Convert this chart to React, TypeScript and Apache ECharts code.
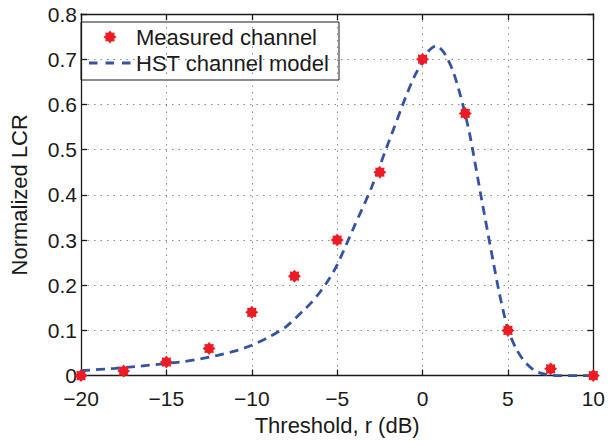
import React, { useEffect, useRef } from "react";
import * as echarts from "echarts";

const measuredX = [-20, -17.5, -15, -12.5, -10, -7.5, -5, -2.5, 0, 2.5, 5, 7.5, 10];
const measuredY = [0, 0.01, 0.03, 0.06, 0.14, 0.22, 0.3, 0.45, 0.7, 0.58, 0.1, 0.015, 0];

const modelX = [-20, -18, -16, -15, -14, -13, -12, -11, -10, -9, -8, -7, -6.5, -6, -5.5, -5, -4, -3, -2, -1, -0.5, 0, 0.4, 0.8, 1.3, 1.8, 2.2, 2.5, 2.8, 3.4, 4.0, 4.5, 5.0, 5.5, 6.0, 6.6, 7.3, 8, 9, 10];
const modelY = [0.011, 0.016, 0.023, 0.027, 0.031, 0.037, 0.045, 0.054, 0.067, 0.085, 0.108, 0.143, 0.162, 0.185, 0.212, 0.245, 0.33, 0.415, 0.515, 0.615, 0.66, 0.695, 0.72, 0.73, 0.712, 0.672, 0.622, 0.578, 0.527, 0.402, 0.28, 0.182, 0.102, 0.058, 0.03, 0.01, 0.002, 0, 0, 0];

const seriesNames = ["Measured channel", "HST channel model"];
const xLabelTitle = "Threshold, r (dB)";
const yLabelTitle = "Normalized LCR";

const FONT = "Liberation Sans, Arial, Helvetica, sans-serif";
const RED = "#ed1c24";
const BLUE = "#3553a4";

function starPoints(cx: number, cy: number, n: number, ro: number, ri: number) {
  const pts: number[][] = [];
  for (let i = 0; i < 2 * n; i++) {
    const a = (i * Math.PI) / n - Math.PI / 2;
    const r = i % 2 === 0 ? ro : ri;
    pts.push([cx + r * Math.cos(a), cy + r * Math.sin(a)]);
  }
  return pts;
}

function starSymbol() {
  const pts = starPoints(10, 10, 8, 10, 7.2);
  return "path://M" + pts.map((p) => p[0].toFixed(2) + "," + p[1].toFixed(2)).join("L") + "Z";
}

export default function App() {
  const ref = useRef<HTMLDivElement>(null);
  useEffect(() => {
    if (!ref.current) return;
    const chart = echarts.init(ref.current, null, { renderer: "svg" });
    const axisLineStyle = { color: "#1a1a1a", width: 1.3 };
    const labelStyle = { fontFamily: FONT, fontSize: 21, color: "#1a1a1a", lineHeight: 16 };
    const splitStyle = { type: [1.5, 5] as any, color: "#8a8a8a", width: 1 };
    chart.setOption({
      animation: false,
      backgroundColor: "#ffffff",
      grid: { left: 74, right: 13, top: 14, bottom: 58, containLabel: false },
      xAxis: [
        {
          type: "value",
          min: -20,
          max: 10,
          interval: 5,
          position: "bottom",
          name: xLabelTitle,
          nameLocation: "middle",
          nameGap: 37,
          nameTextStyle: { fontFamily: FONT, fontSize: 22, color: "#1a1a1a", lineHeight: 20 },
          axisLine: { show: true, onZero: false, lineStyle: axisLineStyle },
          axisTick: { show: true, inside: true, length: 6, lineStyle: axisLineStyle },
          axisLabel: {
            ...labelStyle,
            margin: 15,
            formatter: (v: number) => (v < 0 ? "\u2212" + Math.abs(v) : String(v)),
          },
          splitLine: { show: true, lineStyle: splitStyle },
        },
        {
          type: "value",
          min: -20,
          max: 10,
          interval: 5,
          position: "top",
          axisLine: { show: true, onZero: false, lineStyle: axisLineStyle },
          axisTick: { show: true, inside: true, length: 6, lineStyle: axisLineStyle },
          axisLabel: { show: false },
          splitLine: { show: false },
        },
      ],
      yAxis: [
        {
          type: "value",
          min: 0,
          max: 0.8,
          interval: 0.1,
          position: "left",
          name: yLabelTitle,
          nameLocation: "middle",
          nameGap: 52,
          nameTextStyle: { fontFamily: FONT, fontSize: 22, color: "#1a1a1a", lineHeight: 20 },
          axisLine: { show: true, onZero: false, lineStyle: axisLineStyle },
          axisTick: { show: true, inside: true, length: 6, lineStyle: axisLineStyle },
          axisLabel: {
            ...labelStyle,
            margin: 4,
            formatter: (v: number) => (Math.abs(v) < 1e-9 ? "0" : v.toFixed(1)),
          },
          splitLine: { show: true, lineStyle: splitStyle },
        },
        {
          type: "value",
          min: 0,
          max: 0.8,
          interval: 0.1,
          position: "right",
          axisLine: { show: true, onZero: false, lineStyle: axisLineStyle },
          axisTick: { show: true, inside: true, length: 6, lineStyle: axisLineStyle },
          axisLabel: { show: false },
          splitLine: { show: false },
        },
      ],
      series: [
        {
          name: seriesNames[1],
          type: "line",
          xAxisIndex: 0,
          yAxisIndex: 0,
          data: modelX.map((x, i) => [x, modelY[i]]),
          showSymbol: false,
          smooth: 0.25,
          lineStyle: { color: BLUE, width: 2.8, type: [9, 6] },
          z: 2,
          clip: false,
        },
        {
          name: seriesNames[0],
          type: "scatter",
          xAxisIndex: 0,
          yAxisIndex: 0,
          data: measuredX.map((x, i) => [x, measuredY[i]]),
          symbol: starSymbol(),
          symbolSize: 13,
          itemStyle: { color: RED, opacity: 1 },
          z: 3,
          clip: false,
        },
      ],
      graphic: [
        {
          type: "group",
          z: 100,
          children: [
            {
              type: "rect",
              shape: { x: 81, y: 22, width: 258, height: 58 },
              style: { fill: "#ffffff", stroke: "#1a1a1a", lineWidth: 1 },
            },
            {
              type: "polygon",
              shape: { points: starPoints(110, 37, 8, 6.5, 4.7) },
              style: { fill: RED },
            },
            {
              type: "text",
              x: 136,
              y: 37,
              style: {
                text: seriesNames[0],
                font: "22px " + FONT,
                fill: "#1a1a1a",
                verticalAlign: "middle",
                align: "left",
              },
            },
            {
              type: "line",
              shape: { x1: 89, y1: 63, x2: 132, y2: 63 },
              style: { stroke: BLUE, lineWidth: 2.8, lineDash: [8.5, 8] },
            },
            {
              type: "text",
              x: 136,
              y: 63,
              style: {
                text: seriesNames[1],
                font: "22px " + FONT,
                fill: "#1a1a1a",
                verticalAlign: "middle",
                align: "left",
              },
            },
          ],
        },
      ],
    });
    return () => chart.dispose();
  }, []);
  return (
    <div
      ref={ref}
      style={{ position: "fixed", left: 0, top: 0, width: 608, height: 441, background: "#fff" }}
    />
  );
}
